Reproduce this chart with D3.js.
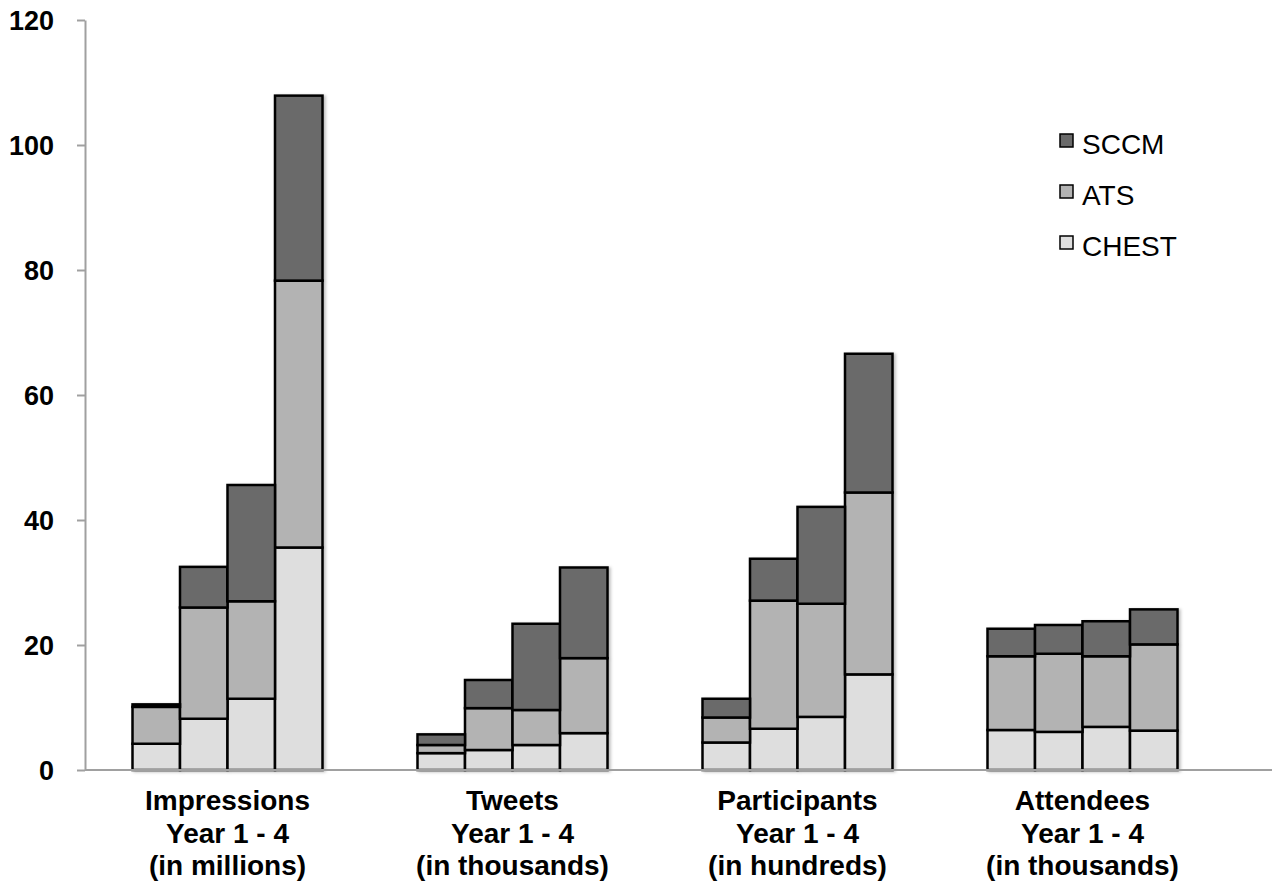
<!DOCTYPE html>
<html>
<head>
<meta charset="utf-8">
<script src="https://cdn.jsdelivr.net/npm/d3@7"></script>
<style>
  html, body { margin: 0; padding: 0; background: #fff; }
  svg { display: block; }
  text { font-family: "Liberation Sans", Arial, sans-serif; }
</style>
</head>
<body>
<svg id="chart" width="1275" height="886"></svg>
<script>
// ---- data ----
const groups = ["Impressions", "Tweets", "Participants", "Attendees"];
const groupLabels = [
  ["Impressions", "Year 1 - 4", "(in millions)"],
  ["Tweets", "Year 1 - 4", "(in thousands)"],
  ["Participants", "Year 1 - 4", "(in hundreds)"],
  ["Attendees", "Year 1 - 4", "(in thousands)"]
];
const years = ["Year 1", "Year 2", "Year 3", "Year 4"];
const seriesNames = ["CHEST", "ATS", "SCCM"];
// segment values per group, per year
const chest = [
  [4.2, 8.2, 11.4, 35.6],
  [2.7, 3.2, 4.0, 5.9],
  [4.4, 6.6, 8.5, 15.3],
  [6.4, 6.1, 6.9, 6.3]
];
const ats = [
  [5.9, 17.8, 15.6, 42.7],
  [1.3, 6.7, 5.6, 12.0],
  [4.0, 20.5, 18.1, 29.1],
  [11.8, 12.5, 11.3, 13.8]
];
const sccm = [
  [0.4, 6.5, 18.6, 29.6],
  [1.7, 4.5, 13.8, 14.5],
  [3.0, 6.7, 15.5, 22.2],
  [4.4, 4.6, 5.6, 5.6]
];
const yTicks = [0, 20, 40, 60, 80, 100, 120];
const colors = { CHEST: "#dedede", ATS: "#b3b3b3", SCCM: "#6a6a6a" };

// ---- build table ----
const rows = [];
groups.forEach((g, gi) => {
  years.forEach((y, yi) => {
    rows.push({ group: g, year: y, CHEST: chest[gi][yi], ATS: ats[gi][yi], SCCM: sccm[gi][yi] });
  });
});
const stacked = d3.stack().keys(seriesNames)(rows);

const svg = d3.select("#chart");
const axisX = 85, baseY = 770, topY = 20, axisEnd = 1272;

const y = d3.scaleLinear().domain([0, 120]).range([baseY, topY]);
const x0 = d3.scaleBand().domain(groups).range([axisX, axisX + 4 * 285]).paddingInner(1/3).paddingOuter(1/6);
const x1 = d3.scaleBand().domain(years).range([0, x0.bandwidth()]).padding(0);

// shadow filter
const defs = svg.append("defs");
const f = defs.append("filter").attr("id", "sh").attr("x", "-10%").attr("y", "-10%").attr("width", "130%").attr("height", "130%");
f.append("feDropShadow").attr("dx", 2).attr("dy", 1).attr("stdDeviation", 1.5).attr("flood-color", "#000").attr("flood-opacity", 0.25);

// bars
const layer = svg.append("g").attr("filter", "url(#sh)");
stacked.forEach(s => {
  layer.append("g").selectAll("rect").data(s).join("rect")
    .attr("x", d => x0(d.data.group) + x1(d.data.year))
    .attr("y", d => y(d[1]))
    .attr("width", x1.bandwidth())
    .attr("height", d => y(d[0]) - y(d[1]))
    .attr("fill", colors[s.key])
    .attr("stroke", "#000")
    .attr("stroke-width", 2.5);
});

// y axis
const yAxis = svg.append("g").attr("transform", `translate(${axisX},0)`)
  .call(d3.axisLeft(y).tickValues(yTicks).tickSize(8).tickSizeOuter(0).tickPadding(23).tickFormat(d3.format("d")));
yAxis.select(".domain").attr("stroke", "#a0a0a0").attr("stroke-width", 2);
yAxis.selectAll(".tick line").attr("stroke", "#a0a0a0").attr("stroke-width", 2);
yAxis.selectAll(".tick text")
  .attr("font-family", "Liberation Sans, Arial, sans-serif")
  .attr("font-size", 27).attr("font-weight", "bold").attr("fill", "#000")
  .attr("dy", "0.35em");

// x axis line
svg.append("line").attr("x1", axisX).attr("x2", axisEnd).attr("y1", baseY).attr("y2", baseY)
  .attr("stroke", "#a0a0a0").attr("stroke-width", 2);

// category labels
const lineY = [810, 843, 875];
groups.forEach((g, gi) => {
  const cx = x0(g) + x0.bandwidth() / 2;
  groupLabels[gi].forEach((t, li) => {
    svg.append("text")
      .attr("x", cx).attr("y", lineY[li])
      .attr("text-anchor", "middle")
      .attr("font-size", 28).attr("font-weight", "bold").attr("fill", "#000")
      .text(t);
  });
});

// legend
const legendOrder = ["SCCM", "ATS", "CHEST"];
legendOrder.forEach((k, i) => {
  const ly = 134 + i * 51;
  svg.append("rect").attr("x", 1060).attr("y", ly).attr("width", 13).attr("height", 13)
    .attr("fill", colors[k]).attr("stroke", "#000").attr("stroke-width", 1.5);
  svg.append("text")
    .attr("x", 1082).attr("y", ly + 20)
    .attr("font-size", 28).attr("fill", "#000")
    .text(k);
});
</script>
</body>
</html>
